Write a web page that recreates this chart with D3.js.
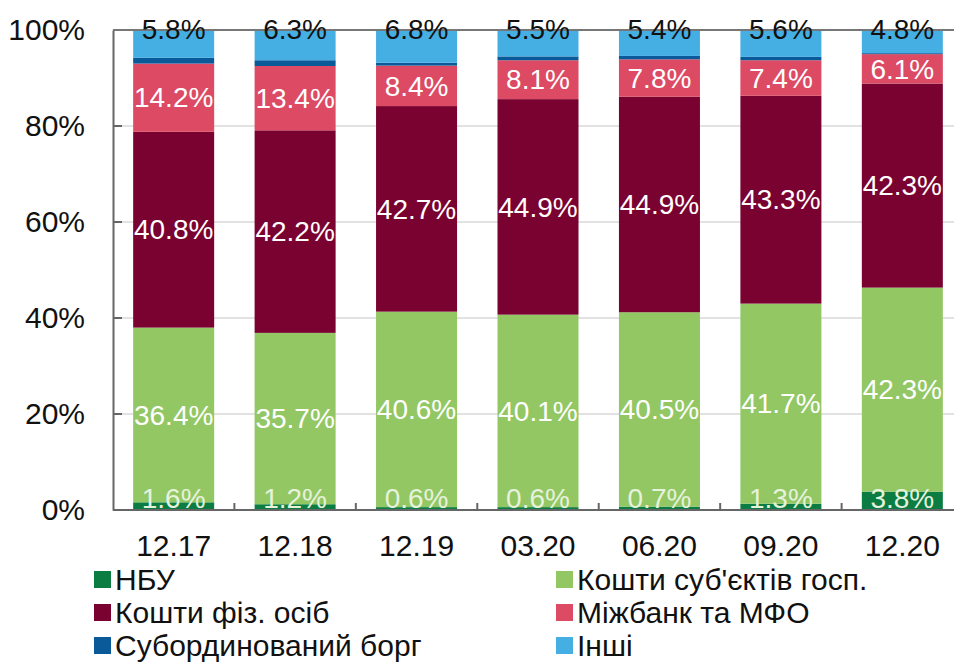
<!DOCTYPE html>
<html>
<head>
<meta charset="utf-8">
<script src="https://cdn.jsdelivr.net/npm/d3@7"></script>
<style>
  body { margin: 0; background: #fff; }
  svg { font-family: "Liberation Sans", Arial, sans-serif; }
</style>
</head>
<body>
<svg id="chart" width="954" height="662"></svg>
<script>
// Periods
var periods = ["12.17", "12.18", "12.19", "03.20", "06.20", "09.20", "12.20"];

// Structure of liabilities, %
var nbu       = [1.6, 1.2, 0.6, 0.6, 0.7, 1.3, 3.8];
var corporate = [36.4, 35.7, 40.6, 40.1, 40.5, 41.7, 42.3];
var household = [40.8, 42.2, 42.7, 44.9, 44.9, 43.3, 42.3];
var interbank = [14.2, 13.4, 8.4, 8.1, 7.8, 7.4, 6.1];
var subdebt   = [1.2, 1.2, 0.6, 0.8, 0.7, 0.7, 0.2];
var other     = [5.8, 6.3, 6.8, 5.5, 5.4, 5.6, 4.8];

var yTicks = [0, 0.2, 0.4, 0.6, 0.8, 1];

var series = [
  { key: "nbu", name: "НБУ", values: nbu, color: "#0b7d43" },
  { key: "corp", name: "Кошти суб'єктів госп.", values: corporate, color: "#92c764" },
  { key: "hh", name: "Кошти фіз. осіб", values: household, color: "#7a0230" },
  { key: "ib", name: "Міжбанк та МФО", values: interbank, color: "#dc4a64" },
  { key: "sub", name: "Субординований борг", values: subdebt, color: "#0a5a9a" },
  { key: "oth", name: "Інші", values: other, color: "#45aee3" }
];

var rows = periods.map(function(p, i) {
  var r = { period: p };
  series.forEach(function(s) { r[s.key] = s.values[i]; });
  return r;
});

var svg = d3.select("#chart");
var x0 = 113, x1 = 963, yTop = 30, yBot = 510;

var x = d3.scaleBand().domain(periods).range([x0, x1]).paddingInner(0.333).paddingOuter(0.166);
var y = d3.scaleLinear().domain([0, 1]).range([yBot, yTop]);

var stack = d3.stack().keys(series.map(function(s) { return s.key; })).offset(d3.stackOffsetExpand);
var stacked = stack(rows);

// gridlines
svg.append("g").selectAll("line")
  .data(yTicks.filter(function(t) { return t > 0 && t < 1; }))
  .enter().append("line")
  .attr("x1", x0).attr("x2", 954)
  .attr("y1", function(d) { return y(d); }).attr("y2", function(d) { return y(d); })
  .attr("stroke", "#d9d9d9").attr("stroke-width", 1.5);

// bars
var colorOf = {};
series.forEach(function(s) { colorOf[s.key] = s.color; });

svg.append("g").selectAll("g")
  .data(stacked)
  .enter().append("g")
  .attr("fill", function(d) { return colorOf[d.key]; })
  .selectAll("rect")
  .data(function(d) { return d; })
  .enter().append("rect")
  .attr("x", function(d) { return x(d.data.period); })
  .attr("width", x.bandwidth())
  .attr("y", function(d) { return y(d[1]); })
  .attr("height", function(d) { return y(d[0]) - y(d[1]); });

// top line at 100%
svg.append("line")
  .attr("x1", x0).attr("x2", 954).attr("y1", y(1)).attr("y2", y(1))
  .attr("stroke", "#777").attr("stroke-width", 2);

// y axis
var yAxis = d3.axisLeft(y).tickValues(yTicks).tickFormat(d3.format(".0%")).tickSize(0).tickPadding(28);
var gy = svg.append("g").attr("transform", "translate(" + x0 + ",0)").call(yAxis);
gy.select(".domain").attr("stroke", "#666").attr("stroke-width", 2);
gy.selectAll("text").attr("font-size", 30).attr("fill", "#111");
// inner y ticks
svg.append("g").selectAll("line")
  .data(yTicks.filter(function(t) { return t > 0 && t < 1; }))
  .enter().append("line")
  .attr("x1", x0).attr("x2", x0 + 9)
  .attr("y1", function(d) { return y(d); }).attr("y2", function(d) { return y(d); })
  .attr("stroke", "#666").attr("stroke-width", 2);

// x axis
var xAxis = d3.axisBottom(x).tickSize(0).tickPadding(25);
var gx = svg.append("g").attr("transform", "translate(0," + yBot + ")").call(xAxis);
gx.select(".domain").remove();
gx.selectAll("text").attr("font-size", 30).attr("fill", "#111");
svg.append("line")
  .attr("x1", x0).attr("x2", 954).attr("y1", yBot).attr("y2", yBot)
  .attr("stroke", "#666").attr("stroke-width", 2);
// category separators (ticks pointing up)
svg.append("g").selectAll("line")
  .data(periods)
  .enter().append("line")
  .attr("x1", function(d) { return x(d) + x.bandwidth() + x.step() * 0.333 / 2; })
  .attr("x2", function(d) { return x(d) + x.bandwidth() + x.step() * 0.333 / 2; })
  .attr("y1", yBot).attr("y2", yBot - 7)
  .attr("stroke", "#666").attr("stroke-width", 2);

// value labels
var fmt = function(v) { return v.toFixed(1) + "%"; };
var labels = svg.append("g").attr("font-size", 28).attr("text-anchor", "middle");

stacked.forEach(function(layer) {
  if (layer.key === "sub") return;
  layer.forEach(function(d) {
    var v = d.data[layer.key];
    var cy, fill;
    if (layer.key === "oth") {
      cy = y(1) - 1; fill = "#111";
    } else if (layer.key === "nbu") {
      cy = y(0) - 12; fill = "#e6f2dc";
    } else {
      cy = (y(d[0]) + y(d[1])) / 2; fill = "#fff";
    }
    labels.append("text")
      .attr("x", x(d.data.period) + x.bandwidth() / 2)
      .attr("y", cy)
      .attr("dy", "0.35em")
      .attr("fill", fill)
      .text(fmt(v));
  });
});

// legend, two columns
var legend = svg.append("g").attr("font-size", 30).attr("fill", "#111");
series.forEach(function(s, i) {
  var col = i % 2, row = Math.floor(i / 2);
  var lx = col === 0 ? 94 : 556;
  var ly = 579 + row * 33;
  legend.append("rect")
    .attr("x", lx).attr("y", ly - 8).attr("width", 17).attr("height", 17)
    .attr("fill", s.color);
  legend.append("text")
    .attr("x", lx + 21).attr("y", ly).attr("dy", "0.35em")
    .text(s.name);
});
</script>
</body>
</html>
